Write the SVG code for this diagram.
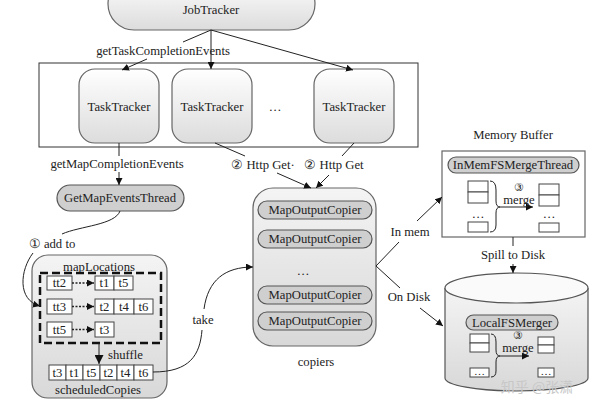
<svg xmlns="http://www.w3.org/2000/svg" width="600" height="400" viewBox="0 0 600 400" font-family="Liberation Serif, Times New Roman, DejaVu Serif, serif">
<defs>
<linearGradient id="g" x1="0" y1="0" x2="0" y2="1"><stop offset="0" stop-color="#ffffff"/><stop offset="1" stop-color="#dcdcdc"/></linearGradient>
<linearGradient id="g2" x1="0" y1="0" x2="0" y2="1"><stop offset="0" stop-color="#f4f4f4"/><stop offset="1" stop-color="#d8d8d8"/></linearGradient>
<marker id="a" viewBox="0 0 10 10" refX="10" refY="5" markerWidth="7" markerHeight="7" orient="auto" markerUnits="userSpaceOnUse"><path d="M0,0 L10,5 L0,10 z" fill="#111"/></marker>
<marker id="b" viewBox="0 0 10 10" refX="10" refY="5" markerWidth="9" markerHeight="9" orient="auto" markerUnits="userSpaceOnUse"><path d="M0,0 L10,5 L0,10 z" fill="#111"/></marker>
<style>
text{fill:#222;font-size:12.7px;text-anchor:middle}
.s{font-size:11px}
.node{stroke:#666;stroke-width:1.2;fill:url(#g)}
.pill{stroke:#555;stroke-width:1.2;fill:#cfcfcf}
.box{stroke:#444;stroke-width:1;fill:#fff}
.ln{stroke:#222;stroke-width:1;fill:none}
.dot{stroke:#222;stroke-width:1.6;fill:none;stroke-dasharray:2 1.5}
</style>
</defs>

<g id="jobtracker"><rect class="node" x="108" y="-22" width="207" height="52" rx="26"/><text x="211" y="14">JobTracker</text></g>

<g id="tasktrackers">
<rect x="39" y="63" width="379" height="84" fill="#fff" stroke="#333" stroke-width="1"/>
<g id="tt1"><rect class="node" x="79" y="69" width="80" height="74" rx="16"/><text x="119" y="111">TaskTracker</text></g>
<g id="tt2"><rect class="node" x="172" y="69" width="80" height="74" rx="16"/><text x="212" y="111">TaskTracker</text></g>
<text x="275" y="111">…</text>
<g id="tt3"><rect class="node" x="314" y="69" width="80" height="74" rx="16"/><text x="354" y="111">TaskTracker</text></g>
</g>

<g id="getmap"><rect class="pill" x="57" y="185" width="127" height="26" rx="13"/><text x="120" y="202">GetMapEventsThread</text></g>

<g id="maplocations">
<rect x="32" y="255" width="135" height="143" rx="16" fill="url(#g2)" stroke="#666" stroke-width="1.2"/>
<text x="99" y="271">mapLocations</text>
<rect x="40" y="273" width="121" height="70" fill="none" stroke="#111" stroke-width="2.5" stroke-dasharray="8 4"/>
<rect class="box" x="47" y="276" width="25" height="14"/><text x="59.5" y="287">tt2</text>
<rect class="box" x="95" y="276" width="19" height="14"/><text x="104.5" y="287">t1</text>
<rect class="box" x="114" y="276" width="19" height="14"/><text x="123.5" y="287">t5</text>
<rect class="box" x="47" y="299" width="25" height="15"/><text x="59.5" y="311">tt3</text>
<rect class="box" x="95" y="299" width="19" height="15"/><text x="104.5" y="311">t2</text>
<rect class="box" x="114" y="299" width="20" height="15"/><text x="124" y="311">t4</text>
<rect class="box" x="134" y="299" width="19" height="15"/><text x="143.5" y="311">t6</text>
<rect class="box" x="47" y="322" width="25" height="15"/><text x="59.5" y="334">tt5</text>
<rect class="box" x="95" y="322" width="19" height="15"/><text x="104.5" y="334">t3</text>
<path class="dot" d="M72,283 H94" marker-end="url(#a)"/>
<path class="dot" d="M72,306.5 H94" marker-end="url(#a)"/>
<path class="dot" d="M72,329.5 H94" marker-end="url(#a)"/>
<path class="ln" d="M99,343 V364" stroke-width="1.2" marker-end="url(#b)"/>
<text x="108" y="359" style="text-anchor:start">shuffle</text>
<rect class="box" x="49" y="365" width="17" height="15"/><text x="57.5" y="377">t3</text>
<rect class="box" x="66" y="365" width="17" height="15"/><text x="74.5" y="377">t1</text>
<rect class="box" x="83" y="365" width="17" height="15"/><text x="91.5" y="377">t5</text>
<rect class="box" x="100" y="365" width="17" height="15"/><text x="108.5" y="377">t2</text>
<rect class="box" x="117" y="365" width="17" height="15"/><text x="125.5" y="377">t4</text>
<rect class="box" x="134" y="365" width="19" height="15"/><text x="143.5" y="377">t6</text>
<text x="98" y="394">scheduledCopies</text>
</g>

<g id="copiers">
<rect x="253" y="188" width="123" height="158" rx="20" fill="url(#g2)" stroke="#666" stroke-width="1.2"/>
<rect class="pill" x="258" y="201" width="114" height="18" rx="9"/><text x="315" y="214">MapOutputCopier</text>
<rect class="pill" x="258" y="230" width="114" height="18" rx="9"/><text x="315" y="243">MapOutputCopier</text>
<text x="303" y="275">…</text>
<rect class="pill" x="258" y="286" width="114" height="18" rx="9"/><text x="315" y="299">MapOutputCopier</text>
<rect class="pill" x="258" y="312" width="114" height="18" rx="9"/><text x="315" y="325">MapOutputCopier</text>
<text x="316" y="366">copiers</text>
</g>

<g id="memorybuffer">
<text x="513" y="139">Memory Buffer</text>
<rect x="442" y="151" width="143" height="86" fill="#fff" stroke="#666" stroke-width="1.2"/>
<rect class="pill" x="448" y="157" width="131" height="16" rx="8"/><text x="513" y="169">InMemFSMergeThread</text>
<rect class="box" x="468" y="181" width="20" height="11"/><rect class="box" x="468" y="192" width="20" height="11"/>
<text x="478" y="218">…</text>
<rect class="box" x="468" y="222" width="20" height="10"/>
<path class="ln" d="M490,181 Q496,181 496,190 V201 Q496,207 500,207 Q496,207 496,213 V225 Q496,232 490,232"/>
<path class="ln" d="M500,207 H533" marker-end="url(#a)"/>
<text x="519" y="191" class="s">③</text><text x="519" y="204">merge</text>
<rect class="box" x="539" y="184" width="20" height="11"/><rect class="box" x="539" y="195" width="20" height="11"/>
<text x="549" y="218">…</text>
<rect class="box" x="539" y="223" width="20" height="9"/>
</g>

<g id="localdisk">
<path d="M445,288 V378 A71.5,13 0 0 0 588,378 V288" fill="url(#g2)" stroke="#555" stroke-width="1.2"/>
<ellipse cx="516.5" cy="288" rx="71.5" ry="15" fill="#fafafa" stroke="#555" stroke-width="1.2"/>
<rect class="pill" x="466" y="315" width="92" height="15" rx="7.5"/><text x="512" y="326.5">LocalFSMerger</text>
<rect class="box" x="470" y="334" width="19" height="9"/><rect class="box" x="470" y="343" width="19" height="9"/>
<rect class="box" x="470" y="368" width="19" height="9"/><text x="479.5" y="375" class="s">…</text>
<path class="ln" d="M491,334 Q496,334 496,342 V350 Q496,356 500,356 Q496,356 496,362 V371 Q496,377 491,377"/>
<path class="ln" d="M500,356 H529" marker-end="url(#a)"/>
<text x="518" y="339" class="s">③</text><text x="518" y="352">merge</text>
<rect class="box" x="538" y="337" width="16" height="8"/><rect class="box" x="538" y="345" width="16" height="8"/>
<rect class="box" x="538" y="368" width="16" height="9"/><text x="546" y="375" class="s">…</text>
</g>

<g id="connectors">
<path class="ln" d="M211,30 L183,42 M147,59 L122,70" marker-end="url(#a)"/>
<text x="163" y="55">getTaskCompletionEvents</text>
<path class="ln" d="M211,30 V69" marker-end="url(#a)"/>
<path class="ln" d="M211,30 L353,70" marker-end="url(#a)"/>
<path class="ln" d="M119,143 V156"/>
<text x="117" y="168">getMapCompletionEvents</text>
<path class="ln" d="M119,172 V185" marker-end="url(#a)"/>
<path class="ln" d="M215,143 L245,156"/>
<text x="263" y="169">② Http Get·</text>
<path class="ln" d="M277,173 L311,188" marker-end="url(#a)"/>
<path class="ln" d="M354,143 L342,156"/>
<text x="334" y="169">② Http Get</text>
<path class="ln" d="M329,175 L316,188" marker-end="url(#a)"/>
<path class="ln" d="M120,211 C115,225 80,226 62,234"/>
<text x="52" y="248">①  add to</text>
<path class="ln" d="M33,253 C20,270 17,300 40,306" marker-end="url(#a)"/>
<path class="ln" d="M153,372 C190,372 200,355 202,330 M204,309 C208,280 225,267 253,267" marker-end="url(#a)"/>
<text x="203" y="324">take</text>
<path class="ln" d="M376,266 L399,242"/>
<text x="410" y="236">In mem</text>
<path class="ln" d="M417,221 L442,197" marker-end="url(#a)"/>
<path class="ln" d="M376,266 L400,288"/>
<text x="409" y="301">On Disk</text>
<path class="ln" d="M420,308 L443,326" marker-end="url(#a)"/>
<path class="ln" d="M513,237 V246"/>
<text x="513" y="259">Spill to Disk</text>
<path class="ln" d="M513,264 V273" marker-end="url(#a)"/>
</g>

<text x="537" y="392" font-family="Noto Sans CJK SC, sans-serif" style="font-size:14px;fill:#c8c8c8">知乎 @张潇</text>
</svg>
